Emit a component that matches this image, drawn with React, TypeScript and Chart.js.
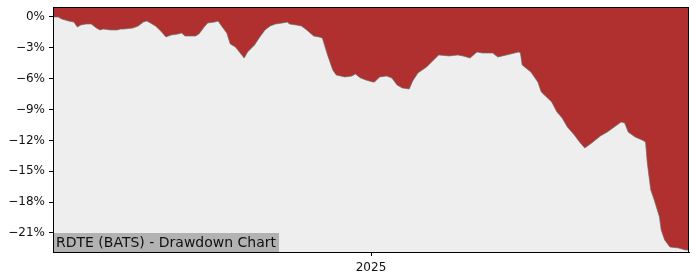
import React, { useEffect, useRef } from "react";
import { Chart, registerables } from "chart.js";

Chart.register(...registerables);

const START_DATE = "2024-07-02";
const dayOffsets = [
  0, 3, 5, 9, 12, 14, 16, 19, 22, 25, 27, 29, 33, 37, 39, 41, 46, 49, 52, 54,
  56, 59, 62, 65, 68, 72, 74, 76, 79, 82, 84, 87, 89, 93, 95, 97, 100, 102, 105, 110,
  112, 116, 119, 122, 125, 128, 132, 135, 136, 140, 143, 146, 150, 153, 155, 158, 161, 163, 168, 172,
  174, 177, 180, 184, 185, 188, 192, 195, 198, 201, 205, 207, 210, 215, 219, 222, 228, 233, 236, 240,
  244, 247, 253, 256, 261, 268, 269, 270, 275, 279, 281, 284, 287, 290, 293, 296, 300, 303, 306, 310,
  315, 319, 323, 327, 329, 331, 335, 339, 341, 342, 344, 346, 349, 350, 352, 355, 360, 364, 366,
];
const drawdownPct = [
  0, 0, -0.19, -0.39, -0.49, -0.97, -0.78, -0.68, -0.68, -1.07, -1.26, -1.17, -1.26, -1.26, -1.17, -1.17, -1.07, -0.88, -0.49, -0.39,
  -0.58, -0.88, -1.36, -1.94, -1.75, -1.65, -1.56, -1.85, -1.85, -1.85, -1.65, -0.97, -0.58, -0.49, -0.39, -0.88, -1.56, -2.62, -2.92, -3.99,
  -3.4, -2.72, -1.94, -1.26, -0.88, -0.68, -0.58, -0.49, -0.68, -0.78, -0.88, -1.26, -1.85, -1.94, -2.04, -3.69, -5.15, -5.64, -5.83, -5.74,
  -5.54, -5.93, -6.12, -6.32, -6.32, -5.83, -5.74, -5.93, -6.61, -6.9, -7.0, -6.22, -5.44, -4.86, -4.18, -3.69, -3.79, -3.69, -3.79, -3.99,
  -3.4, -3.5, -3.5, -3.89, -3.69, -3.4, -3.5, -4.67, -5.35, -6.32, -7.29, -7.78, -8.26, -9.24, -9.82, -10.69, -11.47, -12.15, -12.74, -12.25,
  -11.57, -11.18, -10.69, -10.21, -10.31, -11.18, -11.67, -11.96, -12.15, -14.19, -16.82, -17.79, -19.44, -20.71, -21.68, -22.36, -22.46, -22.65, -22.65,
];
const yTickValues = [0, -3, -6, -9, -12, -15, -18, -21];
const xTickDates = ["2025-01-01"];
const xTickLabels = ["2025"];
const TITLE = "RDTE (BATS) - Drawdown Chart";

const Y_MIN = -22.85;
const Y_MAX = 0.97;

function daysSinceStart(d: string): number {
  const a = Date.parse(START_DATE + "T00:00:00Z");
  const b = Date.parse(d + "T00:00:00Z");
  return Math.round((b - a) / 86400000);
}

const FONT = "DejaVu Sans";

const framePlugin = {
  id: "framePlugin",
  beforeDatasetsDraw(chart: any) {
    const { ctx, chartArea } = chart;
    ctx.save();
    ctx.fillStyle = "#eeeeee";
    ctx.fillRect(chartArea.left, chartArea.top, chartArea.right - chartArea.left, chartArea.bottom - chartArea.top);
    ctx.restore();
  },
  afterDraw(chart: any) {
    const { ctx, chartArea } = chart;
    ctx.save();
    // title box
    ctx.font = `14px "${FONT}"`;
    const w = ctx.measureText(TITLE).width;
    const boxH = 19;
    ctx.fillStyle = "#b2b2b2";
    ctx.fillRect(chartArea.left, chartArea.bottom - boxH, w + 6, boxH);
    ctx.fillStyle = "#111111";
    ctx.textBaseline = "middle";
    ctx.textAlign = "left";
    ctx.fillText(TITLE, chartArea.left + 3, chartArea.bottom - boxH / 2 + 0.5);
    // frame
    ctx.strokeStyle = "#000000";
    ctx.lineWidth = 1;
    ctx.strokeRect(chartArea.left + 0.5, chartArea.top + 0.5, chartArea.right - chartArea.left - 1, chartArea.bottom - chartArea.top);
    ctx.restore();
  },
};

export default function App() {
  const canvasRef = useRef<HTMLCanvasElement | null>(null);

  useEffect(() => {
    if (!canvasRef.current) return;
    const points = dayOffsets.map((d, i) => ({ x: d, y: drawdownPct[i] }));
    const xTickVals = xTickDates.map(daysSinceStart);
    const chart = new Chart(canvasRef.current, {
      type: "line",
      data: {
        datasets: [
          {
            data: points,
            fill: "end",
            backgroundColor: "#b03030",
            borderColor: "rgba(110,110,110,0.7)",
            borderWidth: 1,
            pointRadius: 0,
            tension: 0,
          },
        ],
      },
      options: {
        animation: false,
        responsive: false,
        events: [],
        layout: { padding: { left: 0, right: 11, top: 7, bottom: 0 } },
        plugins: { legend: { display: false }, tooltip: { enabled: false }, title: { display: false } },
        scales: {
          x: {
            type: "linear",
            min: dayOffsets[0],
            max: dayOffsets[dayOffsets.length - 1],
            afterBuildTicks: (axis: any) => {
              axis.ticks = xTickVals.map((v) => ({ value: v }));
            },
            afterFit: (scale: any) => {
              scale.height = 28;
              scale.paddingLeft = 0;
              scale.paddingRight = 0;
            },
            ticks: {
              autoSkip: false,
              maxRotation: 0,
              padding: 5,
              color: "#111",
              font: { family: FONT, size: 12 },
              callback: (v: any) => {
                const idx = xTickVals.indexOf(Number(v));
                return idx >= 0 ? xTickLabels[idx] : "";
              },
            },
            grid: { display: true, drawOnChartArea: false, drawTicks: true, tickLength: 4, color: "#000" },
            border: { display: true, color: "#000", width: 1 },
          },
          y: {
            type: "linear",
            min: Y_MIN,
            max: Y_MAX,
            afterBuildTicks: (axis: any) => {
              axis.ticks = yTickValues.map((v) => ({ value: v }));
            },
            afterFit: (scale: any) => {
              scale.width = 53;
              scale.paddingTop = 0;
              scale.paddingBottom = 0;
            },
            ticks: {
              autoSkip: false,
              padding: 4,
              color: "#111",
              font: { family: FONT, size: 12 },
              callback: (v: any) => {
                const n = Number(v);
                return (n < 0 ? "\u2212" : "") + Math.abs(n) + "%";
              },
            },
            grid: { display: true, drawOnChartArea: false, drawTicks: true, tickLength: 4, color: "#000" },
            border: { display: true, color: "#000", width: 1 },
          },
        },
      },
      plugins: [framePlugin],
    });
    return () => chart.destroy();
  }, []);

  return (
    <div style={{ position: "absolute", left: 0, top: 0, width: 700, height: 280, background: "#fff" }}>
      <canvas ref={canvasRef} width={700} height={280} style={{ display: "block", width: 700, height: 280 }} />
    </div>
  );
}
